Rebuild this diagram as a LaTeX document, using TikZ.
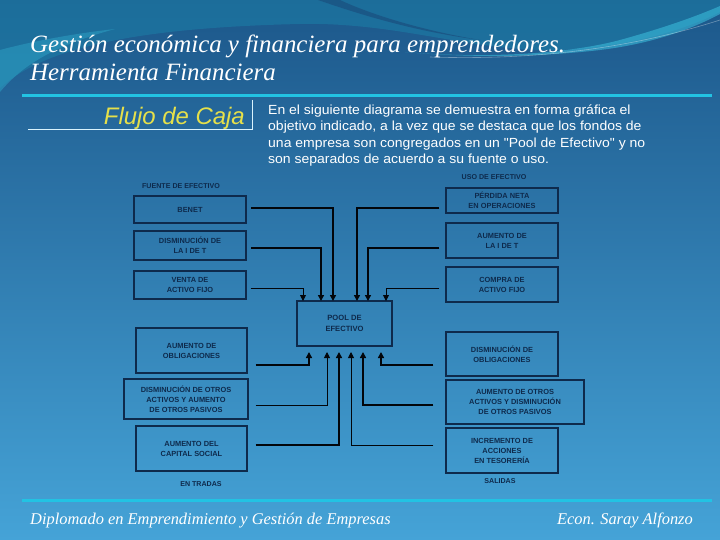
\documentclass[tikz,border=0pt]{standalone}
\usepackage{fontspec}
\setmainfont{Liberation Serif}
\setsansfont{Liberation Sans}
\newfontfamily\parfont[FakeStretch=1.06]{Liberation Sans}
\usetikzlibrary{arrows.meta}
\definecolor{navy}{HTML}{0E2A4C}
\definecolor{bgtop}{HTML}{1C578A}
\definecolor{bgmid}{HTML}{2A79B1}
\definecolor{bgbot}{HTML}{45A3D7}
\definecolor{tealtop}{HTML}{1C7DA6}
\definecolor{tealedge}{HTML}{2EA3C6}
\definecolor{streak}{HTML}{1A4A7A}
\definecolor{swoosh}{HTML}{3CC2E0}
\definecolor{rulecyan}{HTML}{22C3E3}
\definecolor{flujo}{HTML}{E6E04A}
\tikzset{
  box/.style={draw=navy, line width=1.1pt, text=navy, align=center, inner sep=1pt,
    font=\sffamily\bfseries\fontsize{7.4}{10}\selectfont},
  heavybox/.style={box, line width=2pt},
  tag/.style={text=navy, font=\sffamily\bfseries\fontsize{7.1}{9}\selectfont, inner sep=0pt},
  flow/.style={draw=black!85!navy, -{Triangle[width=6pt,length=6pt]}},
  thinflow/.style={flow, line width=0.9pt},
  midflow/.style={flow, line width=1.4pt},
  fatflow/.style={flow, line width=2pt},
  slidetitle/.style={text=white, font=\rmfamily\itshape\fontsize{24.9}{28}\selectfont, inner sep=0pt, anchor=base west},
  footer/.style={text=white, font=\rmfamily\itshape\fontsize{16.4}{18}\selectfont, inner sep=0pt},
}
\begin{document}
\begin{tikzpicture}[x=1pt,y=-1pt]
\useasboundingbox (0,0) rectangle (720,540);
% background
\shade[top color=bgtop, middle color=bgmid, bottom color=bgbot] (0,0) rectangle (720,540);
\fill[tealtop, opacity=0.6] (0,0) -- (0,88) .. controls (40,52) and (120,28) .. (300,24)
  .. controls (400,22) and (470,52) .. (560,50) .. controls (630,47) and (690,28) .. (720,12) -- (720,0) -- cycle;
\fill[tealedge, opacity=0.5] (0,50) .. controls (30,42) and (70,34) .. (115,29) .. controls (60,44) and (25,62) .. (0,92) -- cycle;
\fill[streak, opacity=0.6] (318,0) .. controls (370,18) and (420,32) .. (480,40) .. controls (420,30) and (370,14) .. (340,0) -- cycle;
\fill[swoosh, opacity=0.55] (405,52) .. controls (470,58) and (560,56) .. (620,40) .. controls (660,29) and (695,17) .. (720,6)
  -- (720,14) .. controls (690,30) and (650,44) .. (600,50) .. controls (540,57) and (470,58) .. (405,52) -- cycle;
\draw[white, opacity=0.35, line width=0.6pt] (430,57) .. controls (520,60) and (620,52) .. (720,20);
% title
\node[slidetitle] (t1) at (30,53) {Gestión económica y financiera para emprendedores.};
\node[slidetitle] (t2) at (30,81) {Herramienta Financiera};
\draw[rulecyan, line width=3pt] (22,96) -- (712,96);
% Flujo de caja
\node[text=flujo, font=\sffamily\itshape\fontsize{23.9}{26}\selectfont, inner sep=0pt, anchor=base east] (fc) at (245,125) {Flujo de Caja};
\draw[white!85!cyan, line width=0.8pt] (28,129) -- (252,129) -- (252,100);
\node[text=white, font=\parfont\fontsize{13.2}{16.6}\selectfont, inner sep=0pt, anchor=base west, align=left] (par) at (268,164)
 {En el siguiente diagrama se demuestra en forma gráfica el\\objetivo indicado, a la vez que se destaca que los fondos de\\una empresa son congregados en un "Pool de Efectivo" y no\\son separados de acuerdo a su fuente o uso.};
% labels
\node[tag] (fuente) at (181,186) {FUENTE DE EFECTIVO};
\node[tag] (uso) at (494,177) {USO DE EFECTIVO};
\node[tag] (entradas) at (201,484) {EN TRADAS};
\node[tag] (salidas) at (500,481) {SALIDAS};
% left boxes
\node[heavybox, minimum width=112pt, minimum height=27pt] (benet) at (190,209.5) {BENET};
\node[heavybox, minimum width=112pt, minimum height=29pt] (dismit) at (190,245.5) {DISMINUCIÓN DE\\LA I DE T};
\node[box, minimum width=112pt, minimum height=28pt] (venta) at (190,285) {VENTA DE\\ACTIVO FIJO};
\node[box, minimum width=111pt, minimum height=45pt] (aumob) at (191.5,350.5) {AUMENTO DE\\OBLIGACIONES};
\node[box, minimum width=124pt, minimum height=40pt] (dismot) at (186,399) {DISMINUCIÓN DE OTROS\\ACTIVOS Y AUMENTO\\DE OTROS PASIVOS};
\node[box, minimum width=111pt, minimum height=45pt] (aumcap) at (191.5,448.5) {AUMENTO DEL\\CAPITAL SOCIAL};
% right boxes
\node[box, minimum width=112pt, minimum height=25pt] (perd) at (502,200.5) {PÉRDIDA NETA\\EN OPERACIONES};
\node[box, minimum width=112pt, minimum height=35pt] (aumit) at (502,240.5) {AUMENTO DE\\LA I DE T};
\node[box, minimum width=112pt, minimum height=35pt] (compra) at (502,284.5) {COMPRA DE\\ACTIVO FIJO};
\node[box, minimum width=112pt, minimum height=44pt] (dismob) at (502,354) {DISMINUCIÓN DE\\OBLIGACIONES};
\node[box, minimum width=138pt, minimum height=44pt] (aumot) at (515,402) {AUMENTO DE OTROS\\ACTIVOS Y DISMINUCIÓN\\DE OTROS PASIVOS};
\node[box, minimum width=112pt, minimum height=45pt] (incr) at (502,450.5) {INCREMENTO DE\\ACCIONES\\EN TESORERÍA};
% pool
\node[box, minimum width=95pt, minimum height=45pt, font=\sffamily\bfseries\fontsize{7.6}{11}\selectfont] (pool) at (344.5,323.5) {POOL DE\\EFECTIVO};
% entry points on the pool
\coordinate (p1) at (303,301);
\coordinate (p2) at (321,301);
\coordinate (p3) at (333,301);
\coordinate (p4) at (357,301);
\coordinate (p5) at (368,301);
\coordinate (p6) at (386,301);
\coordinate (q1) at (309,352);
\coordinate (q2) at (327,352);
\coordinate (q3) at (339,352);
\coordinate (q4) at (351,352);
\coordinate (q5) at (363,352);
\coordinate (q6) at (381,352);
% top connectors
\draw[fatflow] ([xshift=4pt,yshift=1.5pt]benet.east) -| (p3);
\draw[midflow] ([xshift=4pt,yshift=-2.5pt]dismit.east) -| (p2);
\draw[thinflow] ([xshift=4pt,yshift=-3pt]venta.east) -| (p1);
\draw[fatflow] ([xshift=-6pt,yshift=-7.5pt]perd.west) -| (p4);
\draw[midflow] ([xshift=-6pt,yshift=-7.5pt]aumit.west) -| (p5);
\draw[thinflow] ([xshift=-6pt,yshift=-3.5pt]compra.west) -| (p6);
% bottom connectors
\draw[midflow] ([xshift=8pt,yshift=-14.5pt]aumob.east) -| (q1);
\draw[thinflow] ([xshift=7pt,yshift=-6pt]dismot.east) -| (q2);
\draw[fatflow] ([xshift=8pt,yshift=3.5pt]aumcap.east) -| (q3);
\draw[thinflow] ([xshift=-12pt,yshift=5.5pt]incr.west) -| (q4);
\draw[fatflow] ([xshift=-12pt,yshift=-3pt]aumot.west) -| (q5);
\draw[midflow] ([xshift=-12pt,yshift=-11pt]dismob.west) -| (q6);
% footer
\draw[rulecyan, line width=3pt] (22,500) -- (712,500);
\node[footer, anchor=base west] (f1) at (30,524) {Diplomado en Emprendimiento y Gestión de Empresas};
\node[footer, anchor=base east] (f2) at (693,524) {Econ. Saray Alfonzo};
\end{tikzpicture}
\end{document}
